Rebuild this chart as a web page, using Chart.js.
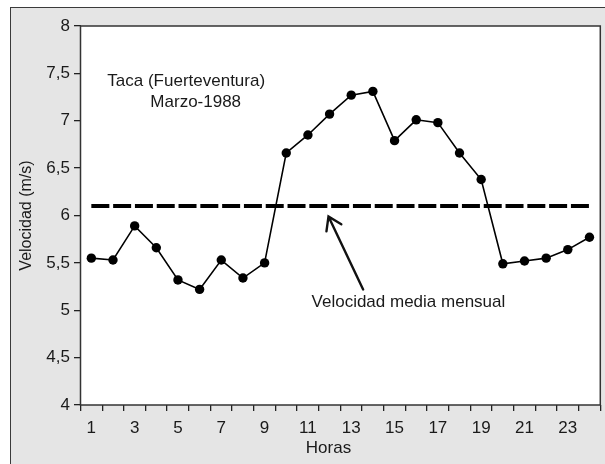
<!DOCTYPE html>
<html lang="es">
<head>
<meta charset="UTF-8">
<title>Taca (Fuerteventura) - Marzo 1988</title>
<script src="https://cdn.jsdelivr.net/npm/chart.js"></script>
<style>
    html, body { margin: 0; padding: 0; background: #fff; overflow: hidden; }
    #marco { position: absolute; left: 10px; top: 7px; width: 640px; height: 500px; background: #e5e5e5; border: 1.5px solid #3a3a3a; }
    #chartContainer { position: absolute; left: 0; top: 0; width: 605px; height: 464px; }
</style>
</head>
<body>
<div id="marco"></div>
<div id="chartContainer"><canvas id="chart" width="605" height="464"></canvas></div>

<script>
    // datos
    const horas = [1, 2, 3, 4, 5, 6, 7, 8, 9, 10, 11, 12, 13, 14, 15, 16, 17, 18, 19, 20, 21, 22, 23, 24]
    const velocidad = [5.55, 5.53, 5.89, 5.66, 5.32, 5.22, 5.53, 5.34, 5.50, 6.66, 6.85, 7.07,
                       7.27, 7.31, 6.79, 7.01, 6.98, 6.66, 6.38, 5.49, 5.52, 5.55, 5.64, 5.77]
    const velocidadMedia = 6.1
    const ejeY = { min: 4, max: 8, paso: 0.5 }

    // anotaciones (en hora / velocidad)
    const titulo = ["Taca (Fuerteventura)", "Marzo-1988"]
    const tituloPos = [{ hora: 5.38, vel: 7.42 }, { hora: 5.82, vel: 7.19 }]
    const etiquetaMedia = "Velocidad media mensual"
    const etiquetaPos = { hora: 15.64, vel: 5.08 }
    const flechaDesde = { hora: 13.55, vel: 5.22 }
    const flechaHasta = { hora: 11.95, vel: 5.99 }
    const tituloX = "Horas"
    const tituloXPos = { hora: 11.95 }

    const fuente = { family: '"Liberation Sans", Arial, sans-serif', size: 17 }
    const fuenteTituloY = { family: '"Liberation Sans", Arial, sans-serif', size: 16 }
    const colorTexto = '#1a1a1a'

    const marcoPlugin = {
        id: 'marco',
        beforeDraw(chart) {
            const { ctx, chartArea: a } = chart
            ctx.save()
            ctx.fillStyle = '#fff'
            ctx.fillRect(a.left, a.top, a.right - a.left, a.bottom - a.top)
            ctx.restore()
        },
        afterDraw(chart) {
            const { ctx, chartArea: a, scales } = chart
            const px = h => scales.x.getPixelForValue(h - 1)
            const py = v => scales.y.getPixelForValue(v)
            ctx.save()
            ctx.strokeStyle = '#333'
            ctx.lineWidth = 1.5
            ctx.strokeRect(a.left, a.top, a.right - a.left, a.bottom - a.top)

            ctx.fillStyle = colorTexto
            ctx.font = `${fuente.size}px ${fuente.family}`
            ctx.textAlign = 'center'
            ctx.textBaseline = 'middle'
            titulo.forEach((t, i) => ctx.fillText(t, px(tituloPos[i].hora), py(tituloPos[i].vel)))
            ctx.fillText(etiquetaMedia, px(etiquetaPos.hora), py(etiquetaPos.vel))
            ctx.fillText(tituloX, px(tituloXPos.hora), a.bottom + 43)

            // flecha
            const x0 = px(flechaDesde.hora), y0 = py(flechaDesde.vel)
            const x1 = px(flechaHasta.hora), y1 = py(flechaHasta.vel)
            const ang = Math.atan2(y0 - y1, x0 - x1)
            ctx.strokeStyle = '#111'
            ctx.lineWidth = 2.4
            ctx.lineCap = 'round'
            ctx.beginPath()
            ctx.moveTo(x0, y0)
            ctx.lineTo(x1, y1)
            ctx.moveTo(x1 + 15 * Math.cos(ang - 0.58), y1 + 15 * Math.sin(ang - 0.58))
            ctx.lineTo(x1, y1)
            ctx.lineTo(x1 + 15 * Math.cos(ang + 0.58), y1 + 15 * Math.sin(ang + 0.58))
            ctx.stroke()
            ctx.restore()
        }
    }

    const canvas = document.getElementById("chart")

    new Chart(canvas, {
        type: 'line',
        data: {
            labels: horas,
            datasets: [
                {
                    label: 'Velocidad',
                    data: velocidad,
                    borderColor: '#000',
                    backgroundColor: '#000',
                    borderWidth: 1.6,
                    pointRadius: 4.7,
                    pointBorderWidth: 0,
                    pointBackgroundColor: '#000',
                    tension: 0
                },
                {
                    label: 'Velocidad media mensual',
                    data: horas.map(() => velocidadMedia),
                    borderColor: '#000',
                    borderWidth: 4,
                    borderDash: [18, 3.8],
                    borderCapStyle: 'butt',
                    pointRadius: 0,
                    tension: 0
                }
            ]
        },
        options: {
            responsive: false,
            animation: false,
            devicePixelRatio: 1,
            layout: { padding: { top: 26, right: 2, left: 0, bottom: 0 } },
            plugins: { legend: { display: false }, tooltip: { enabled: false } },
            scales: {
                x: {
                    offset: true,
                    grid: { offset: true, drawOnChartArea: false, tickLength: 6, color: '#222', lineWidth: 1.3 },
                    border: { display: false },
                    ticks: {
                        color: colorTexto, font: fuente, padding: 7, maxRotation: 0, autoSkip: false,
                        callback: (v, i) => horas[i] % 2 ? horas[i] : ''
                    },
                    afterFit: s => { s.height = 59 }
                },
                y: {
                    min: ejeY.min,
                    max: ejeY.max,
                    grid: { drawOnChartArea: false, tickLength: 6.5, color: '#222', lineWidth: 1.3 },
                    border: { display: false },
                    ticks: {
                        stepSize: ejeY.paso, color: colorTexto, font: fuente, padding: 4,
                        callback: v => String(v).replace('.', ',')
                    },
                    title: { display: true, text: 'Velocidad (m/s)', color: colorTexto, font: fuenteTituloY, padding: { top: 17, bottom: 0 } },
                    afterFit: s => { s.width = 80.5 }
                }
            }
        },
        plugins: [marcoPlugin]
    })
</script>
</body>
</html>
